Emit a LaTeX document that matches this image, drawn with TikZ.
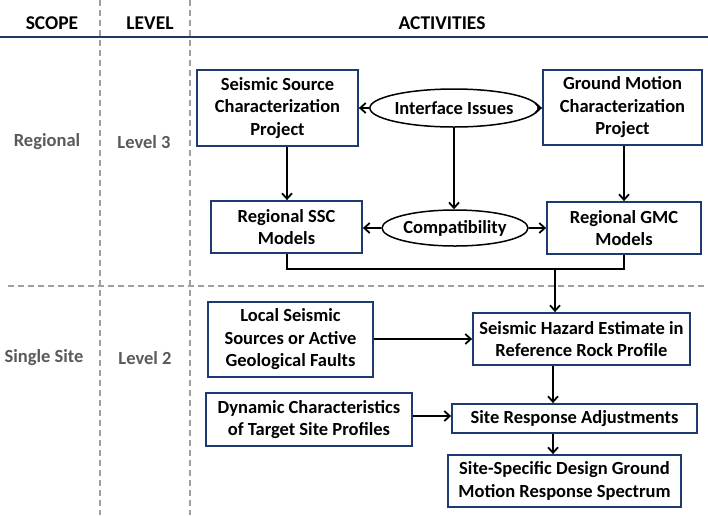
\documentclass[tikz,border=0pt]{standalone}
\usepackage{fontspec}
\setmainfont{Carlito}
\usetikzlibrary{arrows.meta,shapes.geometric}
\definecolor{navy}{HTML}{1F3864}
\definecolor{boxblue}{HTML}{1F3A70}
\definecolor{sgray}{HTML}{5A5A5A}
\definecolor{dgray}{HTML}{A0A0A0}
\begin{document}
\begin{tikzpicture}[x=1pt,y=-1pt,
  boxnode/.style={draw=boxblue,line width=1.8pt,fill=white,align=center,inner sep=0pt,
    font=\fontsize{18.5}{22.5}\selectfont\bfseries},
  ellnode/.style={draw=black,ellipse,line width=1.5pt,fill=white,inner sep=0pt,
    font=\fontsize{18.5}{22.5}\selectfont\bfseries},
  headtext/.style={font=\fontsize{19.5}{23}\selectfont\bfseries,text=black,inner sep=0pt},
  sidetext/.style={font=\fontsize{18.5}{22}\selectfont\bfseries,text=sgray,inner sep=0pt},
  divline/.style={draw=dgray,line width=1.2pt,dash pattern=on 6pt off 4pt},
  conn/.style={draw=black,line width=1.8pt},
  arr/.style={conn,-{Straight Barb[length=5.5pt,width=10pt,line width=1.8pt]}}]
\useasboundingbox (0,0) rectangle (708,515);
\fill[white] (0,0) rectangle (708,515);
% dividers
\draw[divline] (100,0) -- (100,515);
\draw[divline] (190,0) -- (190,515);
\draw[divline] (8,286) -- (708,286);
\draw[draw=navy,line width=2pt] (0,37) -- (708,37);
% headers
\node[headtext] (hscope) at (52,23) {SCOPE};
\node[headtext] (hlevel) at (150,23) {LEVEL};
\node[headtext] (hact) at (442,23) {ACTIVITIES};
\node[sidetext] (reg) at (47,142) {Regional};
\node[sidetext] (lv3) at (144,142) {Level 3};
\node[sidetext] (single) at (44,358) {Single Site};
\node[sidetext] (lv2) at (145,358) {Level 2};
% boxes
\node[boxnode,minimum width=161pt,minimum height=76pt] (ssc) at (277.5,108) {Seismic Source\\Characterization\\Project};
\node[boxnode,minimum width=159pt,minimum height=75pt] (gmc) at (622.5,107.5) {Ground Motion\\Characterization\\Project};
\node[ellnode,minimum width=143pt,minimum height=38pt] (iface) at (454,108) {Interface Issues};
\node[boxnode,minimum width=151pt,minimum height=52pt] (rssc) at (286.5,227) {Regional SSC\\Models};
\node[boxnode,minimum width=154pt,minimum height=52pt] (rgmc) at (624,228) {Regional GMC\\Models};
\node[ellnode,minimum width=136pt,minimum height=36pt] (compat) at (455,228) {Compatibility};
\node[boxnode,minimum width=165pt,minimum height=75pt] (local) at (290.5,339.5) {Local Seismic\\Sources or Active\\Geological Faults};
\node[boxnode,minimum width=217pt,minimum height=52pt] (sh) at (581.5,339) {Seismic Hazard Estimate in\\Reference Rock Profile};
\node[boxnode,minimum width=206pt,minimum height=53pt] (dyn) at (309,419.5) {Dynamic Characteristics\\of Target Site Profiles};
\node[boxnode,minimum width=245pt,minimum height=29pt] (sr) at (574.5,418.5) {Site Response Adjustments};
\node[boxnode,minimum width=233pt,minimum height=52pt] (ssd) at (564.5,481) {Site-Specific Design Ground\\Motion Response Spectrum};
% junction coordinates
\coordinate (j) at (555,269);
\coordinate (k) at (553,0);
\coordinate (m) at (287,0);
% connectors
\draw[arr] (iface.west) -- (ssc.east |- iface.west);
\draw[arr] (iface.east) -- (gmc.west |- iface.east);
\draw[arr] (iface.south) -- (iface.south |- compat.north);
\draw[arr] (ssc.south -| m) -- (rssc.north -| m);
\draw[arr] (rgmc.north |- gmc.south) -- (rgmc.north);
\draw[arr] (compat.west) -- (rssc.east |- compat.west);
\draw[arr] (compat.east) -- (rgmc.west |- compat.east);
\draw[conn] (rssc.south -| m) |- (j);
\draw[conn] (rgmc.south) |- (j);
\draw[arr] (j) -- (j |- sh.north);
\draw[arr] (local.east |- sh.west) -- (sh.west);
\draw[arr] (sh.south -| k) -- (sr.north -| k);
\draw[arr] (dyn.east |- 0,416) -- (sr.west |- 0,416);
\draw[arr] (sr.south -| k) -- (ssd.north -| k);
\end{tikzpicture}
\end{document}
